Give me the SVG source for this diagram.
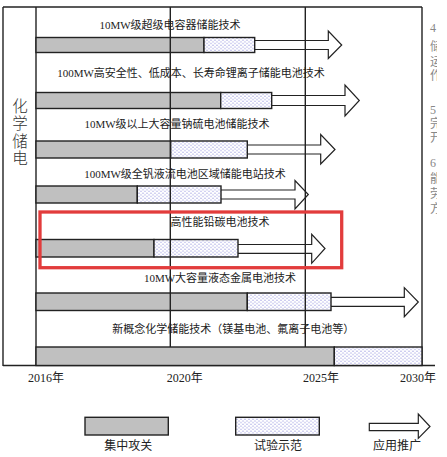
<svg xmlns="http://www.w3.org/2000/svg" width="447" height="457" viewBox="0 0 447 457">
<style>
.lbl{font-family:"Liberation Serif","Noto Sans CJK SC",serif;font-size:11px;fill:#222;text-anchor:middle}
.ax{font-family:"Liberation Serif","Noto Sans CJK SC",serif;font-size:12px;fill:#222}
.leg{font-family:"Liberation Serif","Noto Sans CJK SC",serif;font-size:12px;fill:#222;text-anchor:middle}
.side{font-family:"Noto Sans CJK SC",sans-serif;font-size:15.5px;font-weight:300;fill:#333;writing-mode:vertical-rl;letter-spacing:2px}
.cut{font-family:"Liberation Serif","Noto Sans CJK SC",serif;font-size:12px;fill:#888}
.gray{fill:#c0c0c0;stroke:#222;stroke-width:1.4}
.dot{fill:url(#dots);stroke:#222;stroke-width:1.4}
.arr{fill:#fff;stroke:#222;stroke-width:1.2;stroke-linejoin:miter}
.frame{stroke:#222;stroke-width:1.4;fill:none}
</style>
<defs>
<pattern id="dots" patternUnits="userSpaceOnUse" width="4" height="3.4">
<rect width="4" height="3.4" fill="#fff"/>
<circle cx="1" cy="1" r="0.5" fill="#6a6ad0"/>
<circle cx="3" cy="2.7" r="0.5" fill="#6a6ad0"/>
</pattern>
<clipPath id="clipR"><rect x="423" y="0" width="14" height="457"/></clipPath>
</defs>

<g id="frame">
<line class="frame" x1="3" y1="7" x2="422" y2="7"/>
<line class="frame" x1="3" y1="7" x2="3" y2="366"/>
<line class="frame" x1="36" y1="7" x2="36" y2="366"/>
<line class="frame" x1="422" y1="7" x2="422" y2="366"/>
<line class="frame" x1="3" y1="365.5" x2="435" y2="365.5"/>
</g>

<g id="side-label">
<text class="side" x="20" y="98">化学储电</text>
</g>

<g id="row1">
<text class="lbl" x="170" y="29">10MW级超级电容器储能技术</text>
<polygon class="arr" points="250,40.5 328.3,40.5 328.3,31 341.7,45 328.3,58.5 328.3,49.5 250,49.5"/>
<rect class="gray" x="36" y="37.5" width="168" height="15"/>
<rect class="dot" x="204" y="37.5" width="50.7" height="15"/>
</g>

<g id="row2">
<text class="lbl" x="191" y="77">100MW高安全性、低成本、长寿命锂离子储能电池技术</text>
<polygon class="arr" points="268,95.5 345,95.5 345,85 359.3,100.5 345,116 345,105.5 268,105.5"/>
<rect class="gray" x="36" y="92.5" width="184.7" height="16"/>
<rect class="dot" x="220.7" y="92.5" width="51" height="16"/>
</g>

<g id="row3">
<text class="lbl" x="177" y="128">10MW级以上大容量钠硫电池储能技术</text>
<polygon class="arr" points="244,145 320.7,145 320.7,134.5 335,149.5 320.7,164 320.7,154 244,154"/>
<rect class="gray" x="36" y="141" width="134.7" height="17"/>
<rect class="dot" x="170.7" y="141" width="76.6" height="17"/>
</g>

<g id="row4">
<text class="lbl" x="185" y="178">100MW级全钒液流电池区域储能电站技术</text>
<polygon class="arr" points="218,190 295,190 295,180.5 308.3,194.5 295,209 295,199 218,199"/>
<rect class="gray" x="36" y="186" width="101.3" height="17"/>
<rect class="dot" x="137.3" y="186" width="83.7" height="17"/>
</g>

<g id="row5">
<text class="lbl" x="220" y="226">高性能铅碳电池技术</text>
<polygon class="arr" points="235,244.5 311.7,244.5 311.7,234.3 325,248.5 311.7,263.3 311.7,253.3 235,253.3"/>
<rect class="gray" x="36" y="239.5" width="118" height="17.5"/>
<rect class="dot" x="154" y="239.5" width="84" height="17.5"/>
</g>

<g id="row6">
<text class="lbl" x="220" y="282">10MW大容量液态金属电池技术</text>
<polygon class="arr" points="328,297.3 404.3,297.3 404.3,287.7 418.3,302 404.3,316.7 404.3,306.3 328,306.3"/>
<rect class="gray" x="36" y="293" width="211.3" height="17.5"/>
<rect class="dot" x="247.3" y="293" width="83.7" height="17.5"/>
</g>

<g id="grid">
<line class="frame" x1="170.3" y1="7" x2="170.3" y2="347"/>
<line class="frame" x1="305.3" y1="7" x2="305.3" y2="347"/>
</g>

<g id="row7">
<text class="lbl" x="233.3" y="333">新概念化学储能技术（镁基电池、氟离子电池等）</text>
<rect class="gray" x="36" y="347" width="298.3" height="18.5"/>
<rect class="dot" x="334.3" y="347" width="87.7" height="18.5"/>
</g>

<g id="highlight">
<rect x="40" y="212" width="301.7" height="55.7" fill="none" stroke="#e23c3c" stroke-width="3.3"/>
</g>

<g id="axis-labels">
<text class="ax" x="28" y="382">2016年</text>
<text class="ax" x="166.7" y="382">2020年</text>
<text class="ax" x="303" y="382">2025年</text>
<text class="ax" x="400" y="382">2030年</text>
</g>

<g id="legend">
<rect class="gray" x="85" y="417.3" width="83.3" height="17.7"/>
<text class="leg" x="128.3" y="450">集中攻关</text>
<rect class="dot" x="235.7" y="417.3" width="83.6" height="17.7"/>
<text class="leg" x="278" y="450">试验示范</text>
<polygon class="arr" points="369.3,423.3 418.3,423.3 418.3,414 430,426.5 418.3,438.3 418.3,430.7 369.3,430.7"/>
<text class="leg" x="397" y="450">应用推广</text>
</g>

<g id="cut-text" clip-path="url(#clipR)">
<text class="cut" x="430" y="32">4</text>
<text class="cut" x="430" y="51">储</text>
<text class="cut" x="430" y="66">运</text>
<text class="cut" x="430" y="80">作</text>
<text class="cut" x="430" y="114">5</text>
<text class="cut" x="430" y="128">完</text>
<text class="cut" x="430" y="142">开</text>
<text class="cut" x="430" y="167">6</text>
<text class="cut" x="430" y="183">能</text>
<text class="cut" x="430" y="198">劳</text>
<text class="cut" x="430" y="213">方</text>
</g>
</svg>
